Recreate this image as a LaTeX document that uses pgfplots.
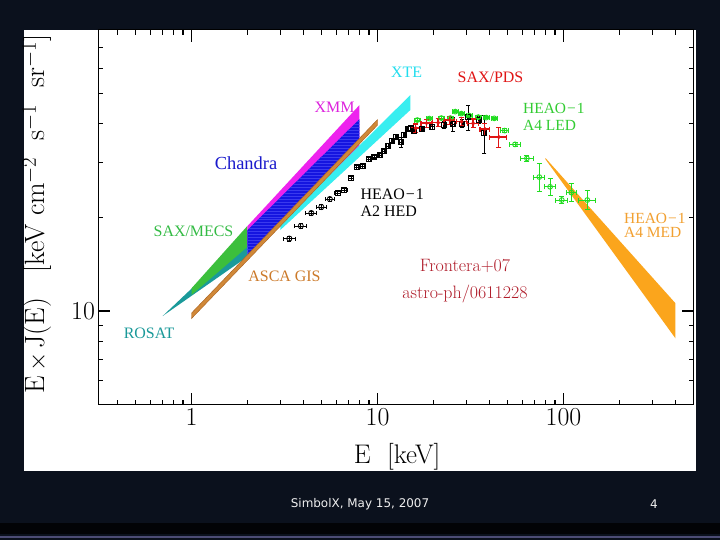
\documentclass[border=0pt]{standalone}
\usepackage{pgfplots}
\pgfplotsset{compat=1.18}
\usepackage{fontspec}
\usetikzlibrary{patterns}
\newfontfamily\lserif{Liberation Serif}
\newfontfamily\dvsans{DejaVu Sans}
\definecolor{bgdark}{HTML}{0B111D}
\definecolor{rosat}{HTML}{1A9A9A}
\definecolor{mecs}{HTML}{3CBF3C}
\definecolor{xmm}{HTML}{EE22EE}
\definecolor{chandra}{HTML}{1515E0}
\definecolor{chandralight}{HTML}{3A3AEE}
\definecolor{xte}{HTML}{38EEF0}
\definecolor{asca}{HTML}{D08838}
\definecolor{ascadark}{HTML}{A8601E}
\definecolor{med}{HTML}{FBA51C}
\definecolor{pds}{HTML}{E01515}
\definecolor{led}{HTML}{22DD22}
\definecolor{ledlbl}{HTML}{33CC33}
\definecolor{mecslbl}{HTML}{33BB44}
\definecolor{ascalbl}{HTML}{CC7A2A}
\definecolor{rosatlbl}{HTML}{1A9999}
\definecolor{medlbl}{HTML}{F2A030}
\definecolor{xtelbl}{HTML}{22DDEE}
\definecolor{xmmlbl}{HTML}{DD22DD}
\definecolor{chandralbl}{HTML}{1A1ACC}
\definecolor{fronteralbl}{HTML}{B01C2A}
\begin{document}
\begin{tikzpicture}[x=1bp,y=1bp]
\fill[bgdark] (0,0) rectangle (720,540);
\fill[black!80!bgdark] (0,6) rectangle (720,17);
\fill[black!60!blue!40!gray] (0,2) rectangle (720,4);
\fill[white] (24,69) rectangle (696,510);
\begin{axis}[
  at={(98.5bp,135.2bp)}, anchor=south west,
  scale only axis, width=595bp, height=375bp,
  xmode=log, ymode=log,
  xmin=0.31623, xmax=500, ymin=5, ymax=80,
  xtick={1,10,100}, xticklabels={1,10,100},
  ytick={10}, yticklabels={10},
  minor xtick={0.4,0.5,0.6,0.7,0.8,0.9,2,3,4,5,6,7,8,9,20,30,40,50,60,70,80,90,200,300,400},
  minor ytick={6,7,8,9,20,30,40,50,60,70},
  major tick length=12bp, minor tick length=5bp,
  every tick/.style={black, line width=1.1bp},
  axis line style={line width=1.4bp},
  tick label style={font=\fontsize{26}{30}\selectfont},
  xlabel={E\ \ [keV]},
  ylabel={E$\,\times\,$J(E)\ \ \ [keV\ cm$^{-2}$\ \ s$^{-1}$\ \ sr$^{-1}$]},
  xlabel style={at={(axis description cs:0.502,-0.138)}, anchor=center, font=\fontsize{27}{30}\selectfont},
  ylabel style={at={(axis description cs:-0.103,0.509)}, anchor=center, font=\fontsize{28}{30}\selectfont},
]
% ROSAT
\addplot[fill=rosat, draw=none] coordinates {(0.70,9.64) (2,17.48) (2,14.94)} -- cycle;
% SAX/MECS
\addplot[fill=mecs, draw=none] coordinates {(1,11.83) (2,18.78) (2,16.08) (1,11.26)} -- cycle;
% XMM
\addplot[fill=xmm, draw=none] coordinates {(2,18.75) (8,45.85) (8,32.88) (2,16.29)} -- cycle;
% Chandra
\addplot[fill=chandra, draw=none, postaction={pattern=horizontal lines, pattern color=chandralight}] coordinates {(2,18.20) (8,41.33) (8,34.87) (2,14.80)} -- cycle;
% XTE
\addplot[fill=xte, draw=none] coordinates {(3,19.02) (15,49.36) (15,44.19) (3,18.20)} -- cycle;
% ASCA GIS
\addplot[fill=asca, draw=ascadark, line width=0.4bp] coordinates {(1,9.85) (10,41.19) (10,39.54) (1,9.46)} -- cycle;
% HEAO-1 A4 MED
\addplot[fill=med, draw=none] coordinates {(80,31.0) (400,10.59) (400,8.17) (80,30.7)} -- cycle;
% HEAO-1 A2 HED (circles)
\addplot[only marks, mark=o, mark size=2.6bp, color=black, mark options={line width=0.8bp},
  error bars/.cd, x dir=both, x explicit, y dir=both, y explicit,
  error bar style={line width=0.8bp, black},
  error mark options={rotate=90, mark size=2bp, line width=0.8bp, black}]
coordinates {
(3.357,17.09) +- (0.24,0.3)
(3.869,18.75) +- (0.28,0.3)
(4.407,20.64) +- (0.30,0.3)
(4.987,21.58) +- (0.30,0.35)
(5.540,22.89) +- (0.30,0.35)
};
% HEAO-1 A2 HED (squares)
\addplot[only marks, mark=square, mark size=2.5bp, color=black, mark options={line width=0.8bp},
  error bars/.cd, x dir=both, x explicit, y dir=both, y explicit,
  error bar style={line width=0.8bp, black},
  error mark options={rotate=90, mark size=2bp, line width=0.8bp, black}]
coordinates {
(6.104,23.87) +- (0.25,0.35)
(6.631,24.46) +- (0.25,0.35)
(7.204,26.67) +- (0.20,0.4)
(7.740,29.00) +- (0.20,0.4)
(8.337,29.21) +- (0.20,0.4)
(8.944,30.69) +- (0.20,0.4)
(9.612,31.22) +- (0.20,0.4)
(10.29,31.68) +- (0.20,0.5)
(10.88,32.63) +- (0.20,0.5)
(11.43,33.86) +- (0.20,0.6)
(12.01,35.27) +- (0.20,0.6)
(12.62,36.19) +- (0.20,0.6)
(13.38,34.87) +- (0.20,1.3)
(13.94,36.73) +- (0.20,0.6)
(14.52,38.54) +- (0.20,0.6)
(15.14,38.68) +- (0.20,0.6)
(15.77,37.83) +- (0.30,0.6)
(17.42,38.54) +- (0.30,0.6)
(19.71,39.05) +- (0.40,0.8)
(22.87,39.54) +- (0.40,1.0)
(25.40,39.84) +- (0.40,2.1)
(28.57,39.99) +- (0.40,1.2)
(30.77,41.95) +- (0.40,3.9)
(35.26,41.04) +- (0.50,1.0)
(37.52,37.28) +- (0.50,5.2)
};
% HEAO-1 A4 LED
\addplot[only marks, mark=o, mark size=2.4bp, color=led, mark options={line width=0.9bp},
  error bars/.cd, x dir=both, x explicit, y dir=both, y explicit,
  error bar style={line width=0.9bp, led},
  error mark options={rotate=90, mark size=2.5bp, line width=0.9bp, led}]
coordinates {
(16.37,41.04) +- (0.6,0.4)
(18.99,41.50) +- (0.7,0.4)
(22.03,41.65) +- (0.8,0.4)
(24.62,41.65) +- (0.9,0.4)
(26.20,43.69) +- (0.9,0.4)
(28.22,43.05) +- (1.0,0.4)
(31.16,42.42) +- (1.1,0.4)
(34.83,41.95) +- (1.2,0.4)
(38.46,41.80) +- (1.4,0.4)
(42.46,41.56) +- (1.5,0.4)
(48.35,37.97) +- (2.5,0.5)
(54.86,34.29) +- (3.5,0.5)
(63.57,30.92) +- (5.0,0.6)
(74.13,26.93) +- (4.8,2.8)
(84.72,25.06) +- (5.5,1.5)
(97.93,22.72) +- (7.0,0.6)
(110.1,24.01) +- (7.0,1.6)
(134.3,22.72) +- (14.0,1.6)
};
% SAX/PDS
\addplot[only marks, mark=*, mark size=1.8bp, color=pds,
  error bars/.cd, x dir=both, x explicit, y dir=both, y explicit,
  error bar style={line width=1.3bp, pds},
  error mark options={rotate=90, mark size=2.5bp, line width=1.1bp, pds}]
coordinates {
(16.03,38.68) +- (1.0,1.2)
(18.34,40.13) +- (1.2,1.2)
(21.18,40.28) +- (1.4,1.2)
(24.47,41.04) +- (1.6,1.2)
(28.29,40.53) +- (1.8,1.2)
(32.66,40.05) +- (2.1,1.3)
(37.75,38.39) +- (2.2,1.7)
(44.89,36.19) +- (4.7,2.6)
};
\end{axis}
\tikzset{lbl/.style={font=\lserif\fontsize{16}{17}\selectfont, inner sep=0pt},
         lbls/.style={font=\lserif\fontsize{15.5}{17}\selectfont, inner sep=0pt}}
\node[lbl, text=xtelbl] at (406.6,467.5) {XTE};
\node[lbl, text=pds] at (490.5,462.5) {SAX/PDS};
\node[lbl, text=xmmlbl] at (334.6,432.5) {XMM};
\node[lbl, text=chandralbl, font=\lserif\fontsize{18.5}{19}\selectfont] at (246,376.7) {Chandra};
\node[lbl, text=black, anchor=west] at (360.4,346) {HEAO\kern1bp\char"2212\kern1bp 1};
\node[lbl, text=black, anchor=west] at (360.4,329) {A2 HED};
\node[lbl, text=mecslbl] at (193.5,308.3) {SAX/MECS};
\node[lbl, text=ascalbl] at (284.5,263.5) {ASCA GIS};
\node[lbl, text=rosatlbl] at (149,206.7) {ROSAT};
\node[lbls, text=ledlbl, anchor=west] at (523,431.7) {HEAO\kern1bp\char"2212\kern1bp 1};
\node[lbls, text=ledlbl, anchor=west] at (523,415) {A4 LED};
\node[lbls, text=medlbl, anchor=west] at (624,321.5) {HEAO\kern1bp\char"2212\kern1bp 1};
\node[lbls, text=medlbl, anchor=west] at (624,307.5) {A4 MED};
\node[font=\fontsize{18}{19}\selectfont, text=fronteralbl, inner sep=0pt] at (465,274) {Frontera+07};
\node[font=\fontsize{18}{19}\selectfont, text=fronteralbl, inner sep=0pt] at (465,246) {astro-ph/0611228};
\node[font=\dvsans\fontsize{12}{13}\selectfont, text=white!88!gray, inner sep=0pt] at (360,36) {SimbolX, May 15, 2007};
\node[font=\dvsans\fontsize{12}{13}\selectfont, text=white!88!gray, inner sep=0pt] at (654,36) {4};
\end{tikzpicture}
\end{document}
